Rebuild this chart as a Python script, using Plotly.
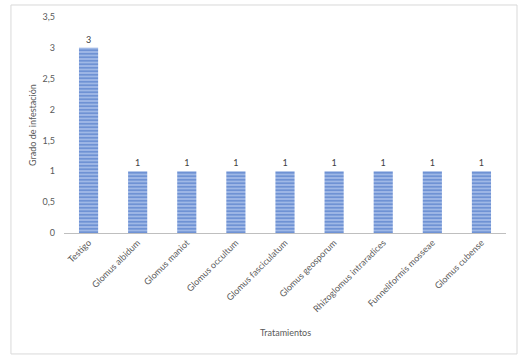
import plotly.graph_objects as go

categories = ["Testigo", "Glomus albidum", "Glomus maniot", "Glomus occultum",
              "Glomus fasciculatum", "Glomus geosporum", "Rhizoglomus intraradices",
              "Funneliformis mosseae", "Glomus cubense"]
values = [3, 1, 1, 1, 1, 1, 1, 1, 1]
y_ticks = [0, 0.5, 1, 1.5, 2, 2.5, 3, 3.5]
y_tick_labels = ["0", "0,5", "1", "1,5", "2", "2,5", "3", "3,5"]

FONT = "Lato"
TXT = "#595959"

fig = go.Figure(go.Bar(
    x=categories, y=values,
    text=[str(v) for v in values], textposition="outside",
    textfont=dict(family=FONT, size=9, color="#404040"),
    cliponaxis=False,
    width=0.39,
    marker=dict(
        color="#9fb8e6",
        line=dict(width=0),
        pattern=dict(shape="-", fgcolor="#3f6bc2", size=3.5, solidity=0.5, fillmode="overlay"),
    ),
))

fig.update_layout(
    width=530, height=361,
    margin=dict(l=64, r=24, t=17, b=128),
    paper_bgcolor="white", plot_bgcolor="white",
    showlegend=False,
    font=dict(family=FONT, size=9, color=TXT),
    shapes=[dict(type="rect", xref="paper", yref="paper",
                 x0=-0.12, x1=1.0249, y0=-0.560, y1=1.0556,
                 line=dict(color="#d9d9d9", width=1), fillcolor="rgba(0,0,0,0)", layer="below")],
    annotations=[dict(text="Tratamientos", xref="paper", yref="paper", x=0.5, y=-0.46,
                      showarrow=False, font=dict(family=FONT, size=9, color=TXT),
                      xanchor="center", yanchor="middle")],
)
fig.update_xaxes(
    range=[-0.5, 8.5], tickangle=-45, showline=True, linecolor="#bfbfbf", linewidth=1,
    showgrid=False, ticks="", tickfont=dict(family=FONT, size=9, color=TXT),
)
fig.update_yaxes(
    range=[0, 3.5], tickvals=y_ticks, ticktext=y_tick_labels, showgrid=False,
    showline=False, zeroline=False, ticks="", ticklabelstandoff=8,
    tickfont=dict(family=FONT, size=9, color=TXT),
    title=dict(text="Grado de infestación", font=dict(family=FONT, size=9, color=TXT), standoff=4),
)
fig.write_html("out.html", config={"displayModeBar": False},
               post_script="document.body.style.margin='0';document.body.style.padding='0';")
